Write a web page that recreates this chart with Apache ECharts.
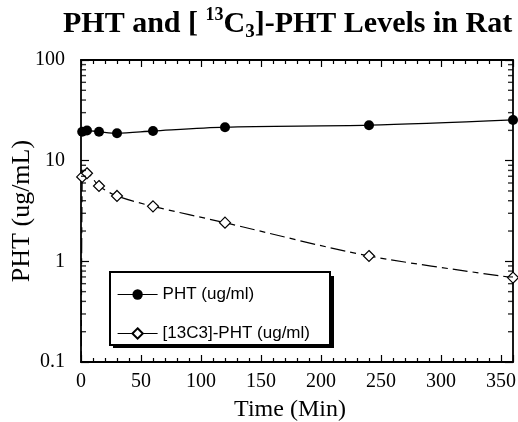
<!DOCTYPE html>
<html>
<head>
<meta charset="utf-8">
<script src="https://cdn.jsdelivr.net/npm/echarts@6/dist/echarts.min.js"></script>
<style>
  html, body { margin: 0; padding: 0; background: #fff; }
  #chart { width: 518px; height: 422px; }
</style>
</head>
<body>
<div id="chart"></div>
<script>
// sample times (min) and plasma levels (ug/mL)
const phtTimes = [1, 5, 15, 30, 60, 120, 240, 360]
const phtLevels = [19.4, 19.9, 19.4, 18.7, 19.7, 21.5, 22.5, 25.4]
const c13Times = [0, 1, 5, 15, 30, 60, 120, 240, 360]
const c13Levels = [0.001, 6.9, 7.5, 5.6, 4.46, 3.52, 2.42, 1.13, 0.69]
const yMinorTicks = [0.2, 0.3, 0.4, 0.5, 0.6, 0.7, 0.8, 0.9, 2, 3, 4, 5, 6, 7, 8, 9, 20, 30, 40, 50, 60, 70, 80, 90]

const serif = '"Liberation Serif", "Times New Roman", serif'
const sans = '"Liberation Sans", Arial, sans-serif'
const X_MIN = 0
const X_MAX = 360

const chart = echarts.init(document.getElementById('chart'))

const frameLine = { show: true, onZero: false, lineStyle: { color: '#000', width: 1.8 } }

// log minor ticks drawn as short bars sitting on the frame
function minorTickSeries(xVal, offset) {
    return {
        type: 'scatter',
        silent: true,
        clip: false,
        z: 5,
        symbol: 'rect',
        symbolSize: [5, 1.4],
        symbolOffset: [offset, 0],
        itemStyle: { color: '#000' },
        data: yMinorTicks.map(v => [xVal, v])
    }
}

chart.setOption({
    animation: false,
    backgroundColor: '#fff',
    title: {
        left: 63,
        top: 6,
        padding: 0,
        text: '{b|PHT and [ }{sup|13}{b|C}{sub|3}{b|]-PHT Levels in Rat}',
        textStyle: {
            rich: {
                b: { fontFamily: serif, fontWeight: 'bold', fontSize: 30, lineHeight: 36, color: '#000' },
                sup: { fontFamily: serif, fontWeight: 'bold', fontSize: 18, lineHeight: 18, verticalAlign: 'top', color: '#000' },
                sub: { fontFamily: serif, fontWeight: 'bold', fontSize: 19, lineHeight: 16, verticalAlign: 'bottom', color: '#000' }
            }
        }
    },
    // legend frame with solid drop shadow
    graphic: [
        { type: 'rect', left: 113, top: 276, shape: { width: 221, height: 72 }, style: { fill: '#000' }, z: 10 },
        { type: 'rect', left: 109, top: 271, shape: { width: 220, height: 73 }, style: { fill: '#fff', stroke: '#000', lineWidth: 2 }, z: 10 }
    ],
    grid: { left: 81, right: 5, top: 60, bottom: 60, containLabel: false, outerBoundsMode: 'none' },
    legend: {
        orient: 'vertical',
        left: 108,
        top: 271,
        padding: [15, 18, 8, 9],
        itemWidth: 40,
        itemHeight: 13,
        itemGap: 22,
        z: 20,
        lineStyle: { type: 'solid', width: 1.2 },
        textStyle: { fontFamily: sans, fontSize: 17, lineHeight: 14, color: '#000' },
        data: ['PHT (ug/ml)', '[13C3]-PHT (ug/ml)']
    },
    xAxis: [
        {
            type: 'value', min: X_MIN, max: X_MAX, interval: 50,
            name: 'Time (Min)', nameLocation: 'middle', nameGap: 36,
            nameTextStyle: { fontFamily: serif, fontSize: 24, color: '#000', padding: [0, 14, 0, 0] },
            axisLine: frameLine,
            axisTick: { inside: true, length: 7, lineStyle: { color: '#000', width: 1.2 } },
            minorTick: { show: true, splitNumber: 5, length: 4, lineStyle: { color: '#000', width: 1.2 } },
            axisLabel: { fontFamily: serif, fontSize: 20, color: '#000', margin: 10, showMaxLabel: false },
            splitLine: { show: false }
        },
        {
            type: 'value', min: X_MIN, max: X_MAX, interval: 50, position: 'top',
            axisLine: frameLine,
            axisTick: { inside: true, length: 7, lineStyle: { color: '#000', width: 1.2 } },
            minorTick: { show: true, splitNumber: 5, length: 4, lineStyle: { color: '#000', width: 1.2 } },
            axisLabel: { show: false },
            splitLine: { show: false }
        }
    ],
    yAxis: [
        {
            type: 'log', min: 0.1, max: 100, logBase: 10,
            name: 'PHT (ug/mL)', nameLocation: 'middle', nameGap: 46, nameMoveOverlap: false,
            nameTextStyle: { fontFamily: serif, fontSize: 26, color: '#000' },
            axisLine: frameLine,
            axisTick: { inside: true, length: 8, lineStyle: { color: '#000', width: 1.2 } },
            axisLabel: { fontFamily: serif, fontSize: 20, color: '#000', margin: 16 },
            splitLine: { show: false }
        },
        {
            type: 'log', min: 0.1, max: 100, logBase: 10, position: 'right',
            axisLine: frameLine,
            axisTick: { inside: true, length: 8, lineStyle: { color: '#000', width: 1.2 } },
            axisLabel: { show: false },
            splitLine: { show: false }
        }
    ],
    series: [
        {
            name: 'PHT (ug/ml)',
            type: 'line',
            data: phtTimes.map((t, i) => [t, phtLevels[i]]),
            smooth: 0.3,
            symbol: 'circle',
            symbolSize: 10,
            itemStyle: { color: '#000' },
            lineStyle: { color: '#000', width: 1.3 },
            clip: true,
            z: 3
        },
        {
            name: '[13C3]-PHT (ug/ml)',
            type: 'line',
            data: c13Times.map((t, i) => [t, c13Levels[i]]),
            smooth: 0.3,
            symbol: 'diamond',
            symbolSize: 11,
            itemStyle: { color: '#fff', borderColor: '#000', borderWidth: 1.2 },
            lineStyle: { color: '#000', width: 1.2, type: [15, 5, 6, 5] },
            clip: true,
            z: 3
        },
        minorTickSeries(X_MIN, 2.5),
        minorTickSeries(X_MAX, -2.5)
    ]
})
</script>
</body>
</html>
